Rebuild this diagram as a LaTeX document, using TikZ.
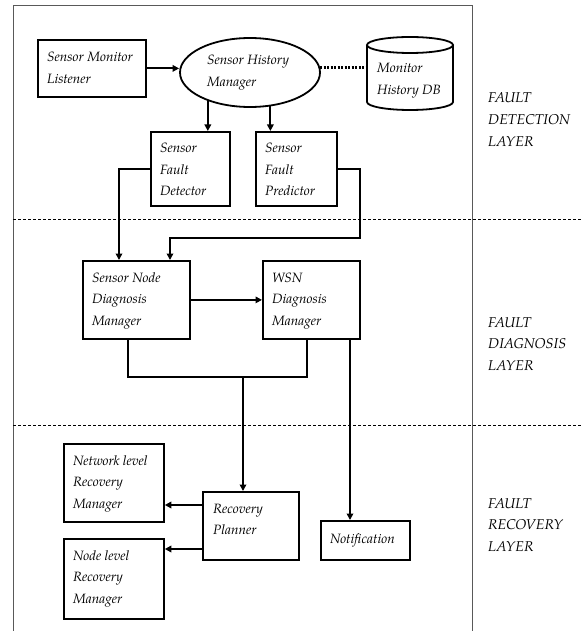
\documentclass[tikz,border=0pt]{standalone}
\usepackage{fontspec}
\setmainfont{texgyrepagella-regular.otf}[ItalicFont=texgyrepagella-italic.otf]
\usetikzlibrary{arrows.meta,calc,shapes.geometric}
\newcommand\mlines[1]{\begin{tabular}[t]{@{}l@{}}#1\end{tabular}}
\begin{document}
\begin{tikzpicture}[x=1pt,y=-1pt,
  box/.style={draw,line width=1.8pt,rectangle,inner sep=0pt,anchor=north west},
  txt/.style={anchor=base west,inner sep=0pt,font=\fontsize{13.5}{21.5}\selectfont\itshape},
  lab/.style={txt,font=\fontsize{14.2}{21.7}\selectfont\itshape},
  conn/.style={line width=1.8pt},
  arr/.style={conn,-{Triangle[length=6.5pt,width=6.5pt]}},
  dots/.style={line width=2.2pt,dash pattern=on 2pt off 1.5pt},
  frame/.style={line width=0.9pt,draw=black!65},
  sep/.style={line width=0.7pt,dash pattern=on 3pt off 2pt}]
\useasboundingbox (0,0) rectangle (582,631);
% frame and layer separators
\draw[frame] (13,631) -- (13,5) -- (472,5) -- (472,631);
\draw[sep] (13,219) -- (582,219);
\draw[sep] (13,425) -- (582,425);
% boxes
\node[box,minimum width=108pt,minimum height=57pt] (sml) at (37,39) {};
\node[draw,ellipse,line width=1.8pt,minimum width=140pt,minimum height=69pt,inner sep=0pt] (shm) at (250,72.5) {};
\node[box,minimum width=79pt,minimum height=74pt] (sfd) at (150,131) {};
\node[box,minimum width=81pt,minimum height=74pt] (sfp) at (255,131) {};
\node[box,minimum width=107pt,minimum height=78pt] (sndm) at (82,260) {};
\node[box,minimum width=97pt,minimum height=78pt] (wsn) at (262,260) {};
\node[box,minimum width=100pt,minimum height=78pt] (nlrm) at (63,443) {};
\node[box,minimum width=100pt,minimum height=80pt] (nolrm) at (63,538) {};
\node[box,minimum width=96pt,minimum height=68pt] (rp) at (202,491) {};
\node[box,minimum width=89pt,minimum height=39pt] (nt) at (320,520) {};
% database cylinder
\draw[line width=1.8pt] (367,45) -- (367,102) arc[start angle=180,end angle=0,x radius=43,y radius=8] -- (453,45);
\draw[line width=1.8pt] (410,45) ellipse [x radius=43,y radius=8];
\coordinate (dbw) at (367,67);
% texts
\node[txt] (sml-t) at (47,62) {\mlines{Sensor Monitor\\Listener}};
\node[txt] (shm-t) at (207,65) {\mlines{Sensor History\\Manager}};
\node[txt] (db-t) at (377,73) {\mlines{Monitor\\History DB}};
\node[txt] (sfd-t) at (160,153) {\mlines{Sensor\\Fault\\Detector}};
\node[txt] (sfp-t) at (265,153) {\mlines{Sensor\\Fault\\Predictor}};
\node[txt] (sndm-t) at (92,282) {\mlines{Sensor Node\\Diagnosis\\Manager}};
\node[txt] (wsn-t) at (272,282) {\mlines{WSN\\Diagnosis\\Manager}};
\node[txt] (nlrm-t) at (73,465) {\mlines{Network level\\Recovery\\Manager}};
\node[txt] (nolrm-t) at (73,560) {\mlines{Node level\\Recovery\\Manager}};
\node[txt] (rp-t) at (213,513) {\mlines{Recovery\\Planner}};
\node[txt] (nt-t) at (330,543) {Notification};
\node[lab] (l1) at (488,103) {\mlines{FAULT\\DETECTION\\LAYER}};
\node[lab] (l2) at (488,327) {\mlines{FAULT\\DIAGNOSIS\\LAYER}};
\node[lab] (l3) at (488,508) {\mlines{FAULT\\RECOVERY\\LAYER}};
% connectors
\draw[arr] (sml.east) -- (sml.east -| shm.west);
\draw[dots] (shm.4) -- (shm.4 -| dbw);
\draw[arr] (shm.214) -- (shm.214 |- sfd.north);
\draw[arr] (shm.301) -- (shm.301 |- sfp.north);
\coordinate (sndm-in1) at ($(sndm.north west)+(37,0)$);
\coordinate (sndm-in2) at ($(sndm.north west)+(88,0)$);
\draw[arr] (sfd.west) -| (sndm-in1);
\draw[arr] (sfp.east) -- ++(22,0) -- ++(0,69) -| (sndm-in2);
\draw[arr] (sndm.east) -- (sndm.east -| wsn.west);
\coordinate (sndm-out) at ($(sndm.south west)+(46,0)$);
\coordinate (wsn-out) at ($(wsn.south west)+(45,0)$);
\coordinate (jn) at ($(wsn.south west)+(45,37)$);
\draw[conn] (sndm-out) |- (jn) -- (wsn-out);
\coordinate (rp-in) at ($(rp.north west)+(41,0)$);
\draw[arr] (rp-in |- jn) -- (rp-in);
\coordinate (nt-in) at ($(nt.north west)+(30,0)$);
\draw[arr] (nt-in |- wsn.south) -- (nt-in);
\coordinate (rp-o1) at ($(rp.north west)+(0,14)$);
\coordinate (rp-o2) at ($(rp.north west)+(0,58)$);
\draw[arr] (rp-o1) -- (rp-o1 -| nlrm.east);
\draw[arr] (rp-o2) -- (rp-o2 -| nolrm.east);
\end{tikzpicture}
\end{document}
